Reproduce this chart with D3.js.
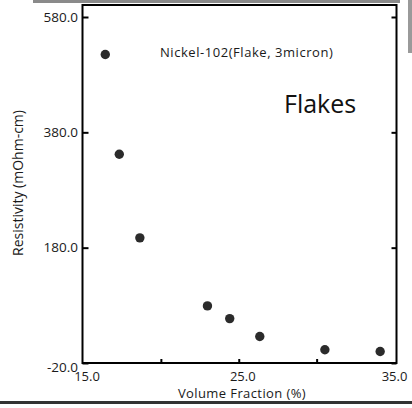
<!DOCTYPE html>
<html>
<head>
<meta charset="utf-8">
<script src="https://cdn.jsdelivr.net/npm/d3@7"></script>
<style>
  html, body { margin: 0; padding: 0; background: #fff; }
  svg { display: block; }
  text { font-family: "Open Sans", "Noto Sans", sans-serif; }
</style>
</head>
<body>
<svg id="chart" width="412" height="408"></svg>
<script>
// Nickel-102 flake filler: resistivity vs. volume fraction
const volumeFraction = [16.43, 17.33, 18.65, 22.99, 24.42, 26.35, 30.53, 34.08];
const resistivity    = [515, 342, 197, 79, 57, 26, 3, 0];

const xTickValues = [15, 20, 25, 30, 35];
const xTickLabels = ["15.0", "", "25.0", "", "35.0"];
const yTickValues = [-20, 180, 380, 580];
const yTickLabels = ["-20.0", "180.0", "380.0", "580.0"];

const seriesLabel = "Nickel-102(Flake, 3micron)";
const panelLabel = "Flakes";
const xTitle = "Volume Fraction (%)";
const yTitle = "Resistivity (mOhm-cm)";

const svg = d3.select("#chart");
const W = 412, H = 408;

const x = d3.scaleLinear().domain([15, 35]).range([83, 394.5]);
const y = d3.scaleLinear().domain([-20, 580]).range([363, 17]);

// edges of neighbouring panels
svg.append("rect").attr("x", 33).attr("y", 0).attr("width", 367).attr("height", 3).attr("fill", "#8a8a8a");
svg.append("rect").attr("x", 408).attr("y", 0).attr("width", 4).attr("height", 53).attr("fill", "#9a9a9a");
svg.append("rect").attr("x", 0).attr("y", 401).attr("width", W).attr("height", 3).attr("fill", "#333");

// plot frame
const frameTop = 5, frameRight = 396.5;
svg.append("rect")
  .attr("x", x(15) - 0.5).attr("y", frameTop)
  .attr("width", frameRight - x(15) + 0.5).attr("height", y(-20) - frameTop)
  .attr("fill", "none").attr("stroke", "#000").attr("stroke-width", 2);

// left axis: inward ticks
const yAxisL = d3.axisRight(y).tickValues(yTickValues).tickSize(6).tickFormat("");
svg.append("g").attr("transform", `translate(${x(15) - 0.5},0)`).call(yAxisL)
  .call(g => g.select(".domain").remove())
  .call(g => g.selectAll("line").attr("stroke", "#000").attr("stroke-width", 2));

// right axis: mirrored inward ticks
const yAxisR = d3.axisLeft(y).tickValues(yTickValues).tickSize(5).tickFormat("");
svg.append("g").attr("transform", `translate(${frameRight},0)`).call(yAxisR)
  .call(g => g.select(".domain").remove())
  .call(g => g.selectAll("line").attr("stroke", "#000").attr("stroke-width", 2));

// y tick labels
svg.append("g").selectAll("text").data(yTickValues).join("text")
  .attr("x", 78)
  .attr("y", (d, i) => y(d) + (i === 0 ? 4 : 0))
  .attr("dy", "0.35em")
  .attr("text-anchor", "end")
  .attr("font-size", 13.5)
  .attr("fill", "#1a1a1a")
  .text((d, i) => yTickLabels[i]);

// bottom axis: inward ticks
const xAxis = d3.axisTop(x).tickValues(xTickValues.slice(1, -1)).tickSize(4).tickFormat("");
svg.append("g").attr("transform", `translate(0,${y(-20)})`).call(xAxis)
  .call(g => g.select(".domain").remove())
  .call(g => g.selectAll("line").attr("stroke", "#000").attr("stroke-width", 2));

// x tick labels
svg.append("g").selectAll("text").data(xTickValues).join("text")
  .attr("x", (d, i) => x(d) + (i === xTickValues.length - 1 ? 0 : 4))
  .attr("y", 380.5)
  .attr("text-anchor", "middle")
  .attr("font-size", 13)
  .attr("fill", "#1a1a1a")
  .text((d, i) => xTickLabels[i]);

// axis titles
svg.append("text")
  .attr("x", 242).attr("y", 398)
  .attr("text-anchor", "middle")
  .attr("font-size", 13)
  .attr("letter-spacing", 0.4)
  .attr("fill", "#1a1a1a")
  .text(xTitle);

svg.append("text")
  .attr("transform", "translate(23,183) rotate(-90)")
  .attr("text-anchor", "middle")
  .attr("font-size", 14)
  .attr("fill", "#1a1a1a")
  .text(yTitle);

// annotations
svg.append("text")
  .attr("x", 160).attr("y", 57)
  .attr("font-size", 13)
  .attr("letter-spacing", 0.55)
  .attr("fill", "#1a1a1a")
  .text(seriesLabel);

svg.append("text")
  .attr("x", 284).attr("y", 113)
  .attr("font-size", 25)
  .attr("fill", "#111")
  .text(panelLabel);

// data points
svg.append("g").selectAll("circle").data(volumeFraction).join("circle")
  .attr("cx", d => x(d))
  .attr("cy", (d, i) => y(resistivity[i]))
  .attr("r", 4.7)
  .attr("fill", "#2b2b2b");
</script>
</body>
</html>
